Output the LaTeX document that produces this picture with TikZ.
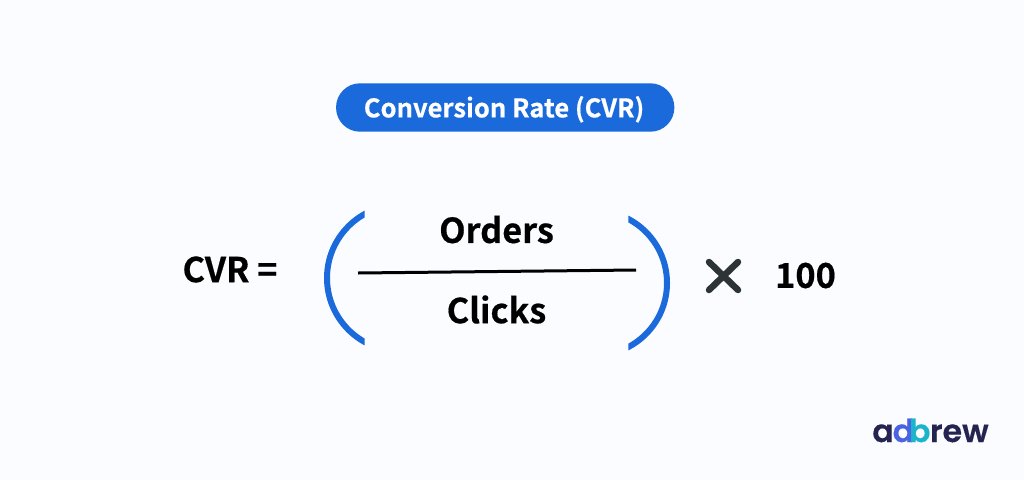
\documentclass[tikz,border=0pt]{standalone}
\usepackage{fontspec}
\setmainfont{Noto Sans CJK JP}[BoldFont={Noto Sans CJK JP Bold},BoldFeatures={FakeBold=0.5}]
\newfontfamily\logofont{Poppins SemiBold}[FakeBold=0.4]
\definecolor{bgc}{HTML}{FBFCFF}
\definecolor{brand}{HTML}{1A6ADB}
\definecolor{crossc}{HTML}{2D3436}
\definecolor{logoink}{HTML}{25234F}
\definecolor{logod}{HTML}{4A63E0}
\definecolor{logob}{HTML}{1CB4CB}
\tikzset{
  formula/.style={font=\bfseries\fontsize{34.3}{40}\selectfont,text=black,inner sep=0pt,anchor=center},
  paren/.style={draw=brand,line width=6pt},
  crossarm/.style={draw=crossc,line width=6.5pt,line cap=round},
}
\begin{document}
\begin{tikzpicture}[x=1pt,y=-1pt]
\useasboundingbox (0,0) rectangle (1024,480);
\fill[bgc] (0,0) rectangle (1024,480);
\node[fill=brand,rounded corners=24pt,minimum width=338.3pt,minimum height=48.4pt,inner sep=0pt,anchor=center] (pill) at (505.2,107.5) {};
\node[font=\bfseries\fontsize{25.6}{30}\selectfont,text=white,inner sep=0pt] (title) at (504,109.3) {Conversion Rate (CVR)};
\node[formula] (cvr) at (230,269.5) {CVR =};
\node[formula] (orders) at (496.5,229.5) {Orders};
\node[formula] (clicks) at (496.5,309.5) {Clicks};
\node[formula] (hundred) at (805.5,275.5) {100};
\coordinate (barL) at (358,273);
\coordinate (barR) at (636,270);
\draw[black,line width=3pt] (barL) -- (barR);
\begin{scope}
\clip (300,190) rectangle (364.7,370);
\draw[paren] (400.2,278) circle (73.2);
\end{scope}
\begin{scope}
\clip (628.3,190) rectangle (690,370);
\draw[paren] (594.7,283) circle (72.3);
\end{scope}
\coordinate (xa) at (709,262);
\coordinate (xb) at (738,290);
\coordinate (xc) at (738,262);
\coordinate (xd) at (709,290);
\draw[crossarm] (xa) -- (xb);
\draw[crossarm] (xc) -- (xd);
\node[font=\logofont\fontsize{31.5}{36}\selectfont,inner sep=0pt,text=logoink] (logo) at (930.5,430.5) {a\kern-1pt\textcolor{logod}{d}\kern-5pt\textcolor{logob}{b}\kern-0.5pt rew};
\end{tikzpicture}
\end{document}
